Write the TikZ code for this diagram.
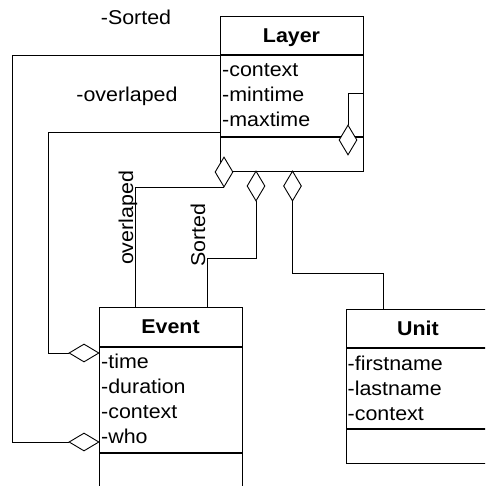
\documentclass[tikz,border=0pt]{standalone}
\usepackage{fontspec}
\setmainfont{Liberation Sans}[FakeStretch=1.07]
\usetikzlibrary{shapes.geometric}

\begin{document}
\begin{tikzpicture}[x=1pt, y=-1pt,
  every node/.style={font=\fontsize{20}{24}\selectfont},
  classbox/.style={draw, line width=1.4pt, inner sep=0, anchor=north west},
  title/.style={font=\fontsize{20}{24}\selectfont\bfseries, anchor=base, inner sep=0},
  attr/.style={anchor=base west, inner sep=0},
  agg/.style={diamond, draw, fill=white, line width=0.9pt, inner sep=0, minimum width=30, minimum height=18},
  aggv/.style={agg, minimum width=18, minimum height=30},
  link/.style={line width=0.9pt}]
  \clip (0,0) rectangle (485,486);

  % Layer class
  \node[classbox, minimum width=143, minimum height=155] (layer) at (220,16) {};
  \node[title] (layerT) at (291.5,43) {Layer};
  \draw[line width=1.4pt] (220,55) -- (363,55) (220,137) -- (363,137);
  \foreach \t [count=\i] in {-context,-mintime,-maxtime}
    \node[attr] (layerA\i) at (222,{52+25*\i}) {\t};

  % Event class
  \node[classbox, minimum width=143, minimum height=220] (event) at (99,307) {};
  \node[title] (eventT) at (170.5,333) {Event};
  \draw[line width=1.4pt] (99,347) -- (242,347) (99,453) -- (242,453);
  \foreach \t [count=\i] in {-time,-duration,-context,-who}
    \node[attr] (eventA\i) at (101,{343+25*\i}) {\t};

  % Unit class
  \node[classbox, minimum width=143, minimum height=154] (unit) at (346,309) {};
  \node[title] (unitT) at (418,335) {Unit};
  \draw[line width=1.4pt] (346,348) -- (489,348) (346,429) -- (489,429);
  \foreach \t [count=\i] in {-firstname,-lastname,-context}
    \node[attr] (unitA\i) at (347.5,{345+25*\i}) {\t};

  % Aggregation diamonds
  \node[agg] (dSortEv) at (84,442) {};
  \node[agg] (dOverEv) at (84,353) {};
  \node[aggv] (dLoop) at (348,140) {};
  \node[aggv] (dOverL) at (224,172) {};
  \node[aggv] (dSortL) at (256,186) {};
  \node[aggv] (dUnit) at (292.5,186) {};

  % Connections
  \coordinate (sortL) at (220,55);
  \coordinate (overL) at (220,132);
  \coordinate (loopR) at (363,93);
  \coordinate (evA) at (135,307);
  \coordinate (evB) at (207,307);
  \coordinate (unA) at (383,309);
  \draw[link] (sortL) -- ++(-207.5,0) |- (dSortEv.west);
  \draw[link] (overL) -- ++(-172,0) |- (dOverEv.west);
  \draw[link] (loopR) -| (dLoop.north);
  \draw[link] (dOverL.south) -| (evA);
  \draw[link] (dSortL.south) -- ++(0,57) -| (evB);
  \draw[link] (dUnit.south) -- ++(0,72) -| (unA);

  % Role labels
  \node[anchor=base] (lblSorted) at (136,25) {-Sorted};
  \node[anchor=base] (lblOver) at (127,102) {-overlaped};
  \node[anchor=base, rotate=90] (lblOverV) at (133,218) {overlaped};
  \node[anchor=base, rotate=90] (lblSortV) at (205,235) {Sorted};
\end{tikzpicture}
\end{document}
